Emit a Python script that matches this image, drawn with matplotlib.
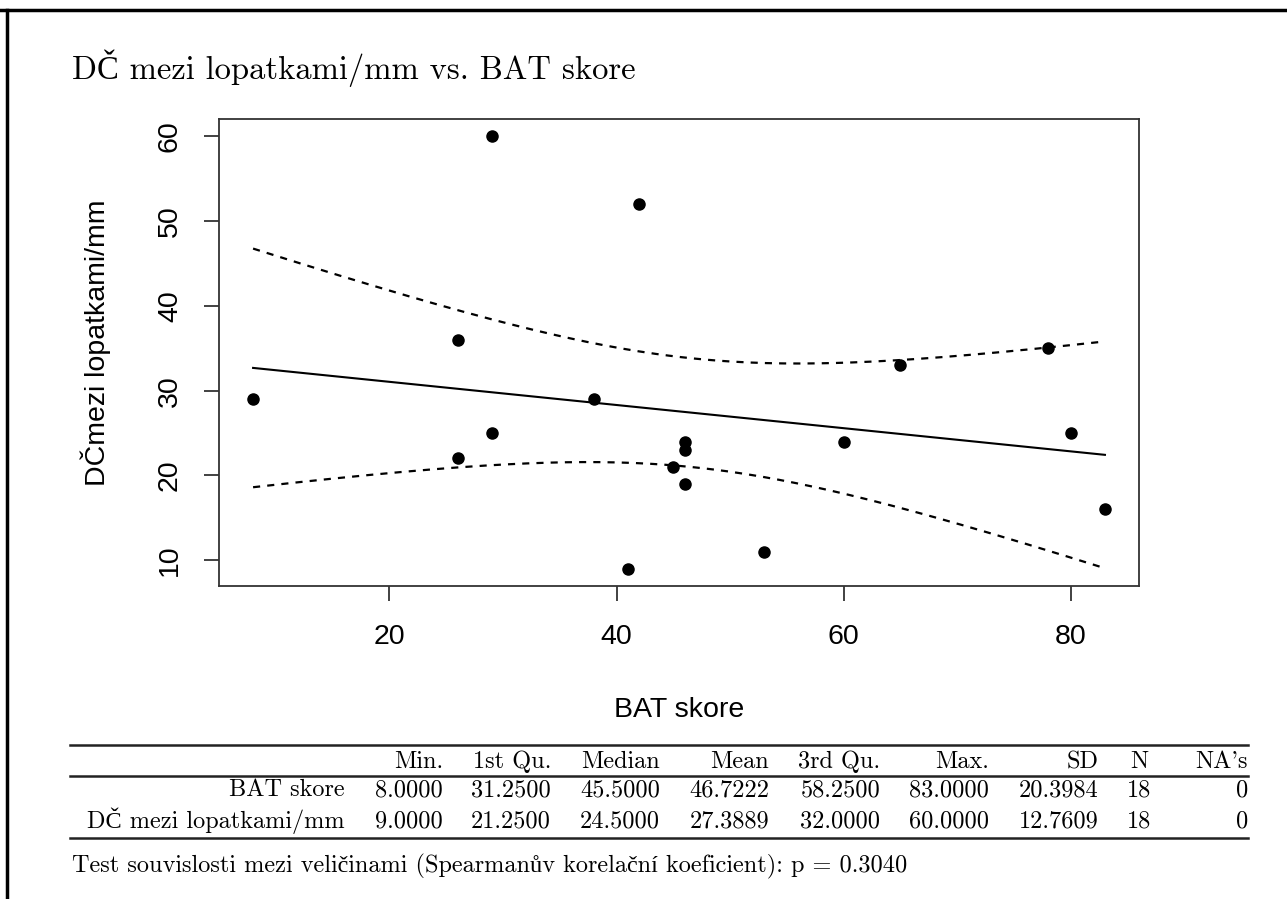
import numpy as np
import matplotlib
matplotlib.use("Agg")
import matplotlib.pyplot as plt
from matplotlib.lines import Line2D

# Data
bat = [8, 26, 26, 29, 29, 38, 42, 41, 45, 46, 46, 46, 53, 60, 65, 78, 80, 83]
dc = [29, 36, 22, 60, 25, 29, 52, 9, 21, 24, 23, 19, 11, 24, 33, 35, 25, 16]

stat_cols = ["Min.", "1st Qu.", "Median", "Mean", "3rd Qu.", "Max.", "SD", "N", "NA's"]
row_names = ["BAT skore", "DČ mezi lopatkami/mm"]
row_bat = ["8.0000", "31.2500", "45.5000", "46.7222", "58.2500", "83.0000", "20.3984", "18", "0"]
row_dc = ["9.0000", "21.2500", "24.5000", "27.3889", "32.0000", "60.0000", "12.7609", "18", "0"]

title = "DČ mezi lopatkami/mm vs. BAT skore"
footnote = "Test souvislosti mezi veličinami (Spearmanův korelační koeficient): p = 0.3040"

W, H = 1287, 899
SERIF = ["cmr10", "Liberation Serif"]
SANS = ["Liberation Sans", "DejaVu Sans"]


def px(x, y):
    # pixel -> figure coords
    return x / W, 1 - y / H


fig = plt.figure(figsize=(W / 100, H / 100), dpi=100)

# regression line + 95% CI of the mean
x = np.array(bat, dtype=float)
y = np.array(dc, dtype=float)
n = len(x)
b, a = np.polyfit(x, y, 1)
resid = y - (a + b * x)
s = np.sqrt(np.sum(resid ** 2) / (n - 2))
xs = np.linspace(x.min(), x.max(), 200)
yfit = a + b * xs
se = s * np.sqrt(1 / n + (xs - x.mean()) ** 2 / np.sum((x - x.mean()) ** 2))
t = 2.1199  # t(0.975, 16)

ax = fig.add_axes([219 / W, 1 - 586 / H, (1139 - 219) / W, (586 - 119) / H])
ax.plot(xs, yfit, color="black", lw=1.5)
ax.plot(xs, yfit + t * se, color="black", lw=1.6, ls=(0, (3.2, 3.2)))
ax.plot(xs, yfit - t * se, color="black", lw=1.6, ls=(0, (3.2, 3.2)))
ax.plot(x, y, "o", color="black", ms=8)

ax.set_xlim(5, 86)
ax.set_ylim(6.96, 62.04)
ax.set_xticks([20, 40, 60, 80])
ax.set_yticks([10, 20, 30, 40, 50, 60])
for sp in ax.spines.values():
    sp.set_color("#333333")
    sp.set_linewidth(1.3)
ax.tick_params(axis="both", length=11, width=1.3, color="#333333", labelsize=20.5)
ax.tick_params(axis="x", pad=16)
ax.tick_params(axis="y", pad=15)
for lab in ax.get_xticklabels() + ax.get_yticklabels():
    lab.set_fontfamily(SANS)
for lab in ax.get_yticklabels():
    lab.set_rotation(90)
    lab.set_va("center")

ax.set_xlabel("BAT skore", fontsize=20.5, family=SANS)
ax.xaxis.label.set_va("center")
ax.xaxis.set_label_coords(0.5, -0.265)
ax.set_ylabel("DČmezi lopatkami/mm", fontsize=20.5, family=SANS)
ax.yaxis.label.set_va("center")
ax.yaxis.set_label_coords(-0.134, 0.52)

# title
fig.text(*px(72, 68), title, fontsize=23.5, family=SERIF, va="center", ha="left")

# table
col_right = [443, 551, 660, 769, 880, 989, 1099, 1139, 1248]
for yy in [745, 776, 838]:
    fig.add_artist(Line2D([70 / W, 1248 / W], [1 - yy / H] * 2, color="#222222", lw=1.8))

for name, xr in zip(stat_cols, col_right):
    ha = "center" if name == "N" else "right"
    fig.text(*px(xr, 762), name, fontsize=17.5, family=SERIF, ha=ha, va="center")

for yy, name, vals in [(790, row_names[0], row_bat), (821, row_names[1], row_dc)]:
    fig.text(*px(345, yy), name, fontsize=17.5, family=SERIF, ha="right", va="center")
    for col, v, xr in zip(stat_cols, vals, col_right):
        ha = "center" if col == "N" else "right"
        fig.text(*px(xr, yy), v, fontsize=17.5, family=SERIF, ha=ha, va="center")

fig.text(*px(72, 866), footnote, fontsize=17.5, family=SERIF, ha="left", va="center")

# page frame
fig.add_artist(Line2D([0, 1], [1 - 10 / H] * 2, color="black", lw=2.5))
fig.add_artist(Line2D([7 / W] * 2, [0, 1 - 10 / H], color="black", lw=2.5))

fig.savefig("out.png", dpi=100)
